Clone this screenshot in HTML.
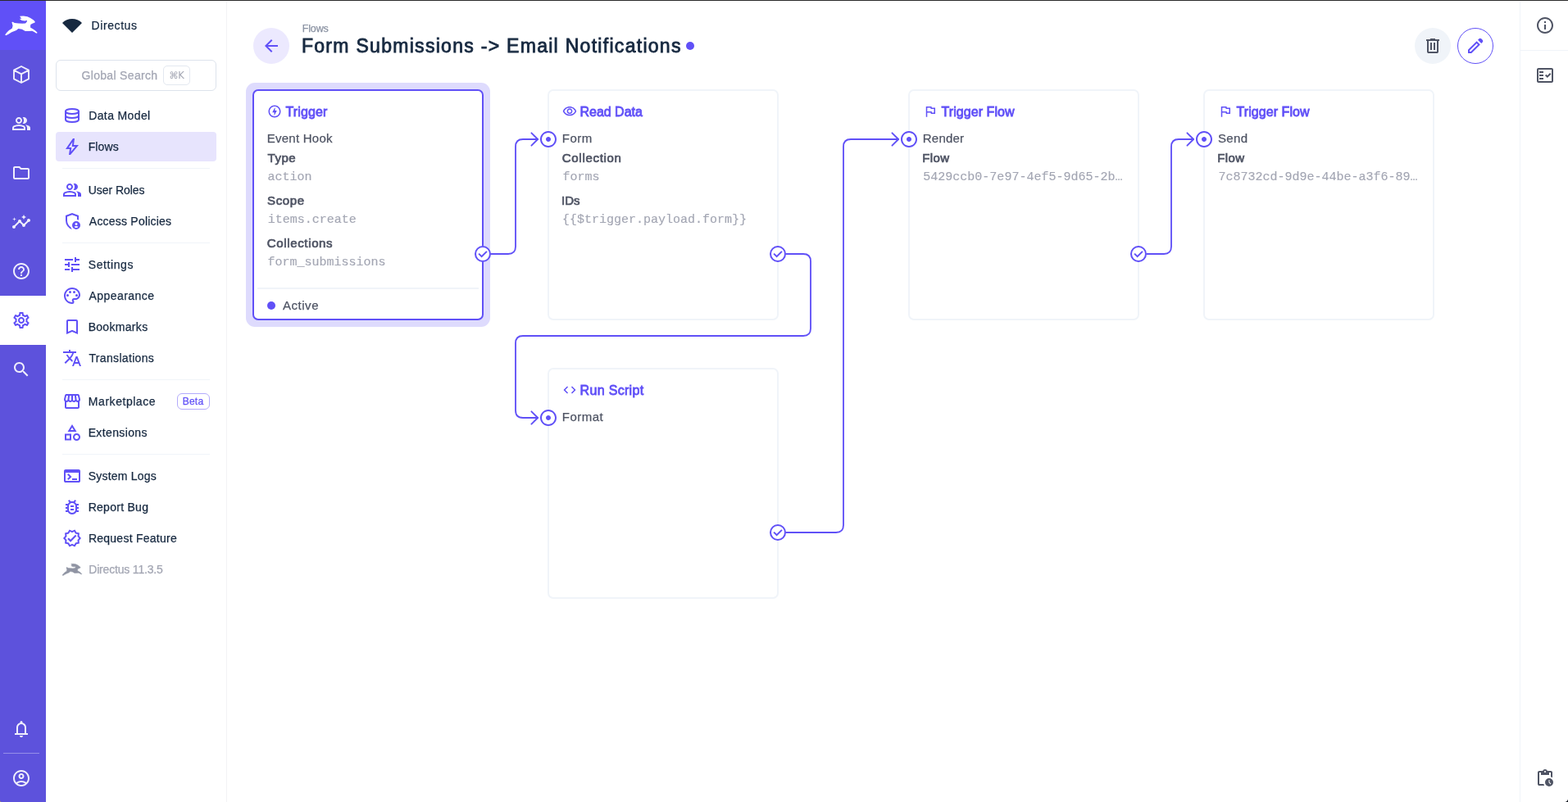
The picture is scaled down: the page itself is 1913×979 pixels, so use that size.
<!DOCTYPE html>
<html lang="en"><head><meta charset="utf-8"><title>Form Submissions -&gt; Email Notifications · Directus</title>
<style>
*{margin:0;padding:0;}
html,body{width:1913px;height:979px;overflow:hidden;background:#fff;}
body{position:relative;font-family:"Liberation Sans", sans-serif;-webkit-font-smoothing:antialiased;}
#app{position:absolute;left:0;top:0;width:1913px;height:979px;overflow:hidden;background:#fff;will-change:transform;}
#app div,#app span,#app svg,#app .sec{position:absolute;}
.sec{left:0;top:0;width:0;height:0;display:block;}
.t{white-space:nowrap;display:block;}
.i{display:block;overflow:visible;}
</style></head>
<body><div id="app">
<div style="left:0px;top:0px;width:1913px;height:1px;background:#2b2b2b;"></div>
<aside id="module-bar" class="sec" aria-label="Modules">
<div style="left:0px;top:1px;width:56px;height:60px;background:#6050f7;"></div>
<div style="left:0px;top:61px;width:56px;height:918px;background:#5d52dc;"></div>
<svg class="i" style="left:6px;top:18.5px" width="40" height="25" viewBox="0 0 40 25" fill="#fff" stroke="#fff"><path stroke="none" d="M18.07 0.72L22.51 0.56L27.42 1.24L31.09 2.95L34.62 5.31L36.67 7.37L36.36 8.68L34.00 9.60L31.25 10.98L31.03 14.51L34.77 16.65L37.83 19.10L39.73 21.09L38.45 21.77L35.69 20.02L33.24 18.80L28.64 19.01L24.81 19.01L20.83 16.86L16.38 16.04L13.93 18.09L8.26 20.24L4.28 22.69L1.43 24.37L0.14 23.48L2.23 20.85L4.99 17.88L8.66 15.73L9.58 12.51L8.97 10.37L8.36 8.07L9.58 7.67L11.79 9.08L16.38 9.39L21.29 9.82L25.03 9.51L26.65 7.76L27.05 5.77L24.35 6.39L20.67 5.90L18.07 4.30L18.47 3.63L20.37 3.78L19.30 2.46Z"/></svg>
<svg class="i" style="left:14.0px;top:79.0px;opacity:0.9;" width="24" height="24" viewBox="0 0 24 24" fill="#fff" stroke="#fff"><path fill="none" stroke-width="1.9" stroke-linejoin="round" stroke-linecap="round" d="M12 2L21 6.7V17.3L12 22L3 17.3V6.7ZM3.2 6.8L12 11.4L20.8 6.8M12 11.4V21.8" /></svg>
<svg class="i" style="left:14.0px;top:139.0px;opacity:0.9;" width="24" height="24" viewBox="0 0 24 24" fill="#fff" stroke="#fff"><path stroke="none" d="M1 20v-2.8q0-.85.438-1.563T2.6 14.55q1.55-.775 3.15-1.163T9 13q1.65 0 3.25.388t3.15 1.162q.725.375 1.163 1.088T17 17.2V20H1Zm18 0v-3q0-1.1-.612-2.113T16.650 13.150q1.275.150 2.400.513t2.100.887q.9.5 1.375 1.113T23 17v3h-4ZM9 12q-1.650 0-2.825-1.175T5 8q0-1.650 1.175-2.825T9 4q1.650 0 2.825 1.175T13 8q0 1.650-1.175 2.825T9 12Zm10-4q0 1.650-1.175 2.825T15 12q-.275 0-.7-.062t-.7-.138q.675-.8 1.037-1.775T15 8q0-1.050-.363-2.025T13.600 4.200q.350-.125.7-.163T15 4q1.650 0 2.825 1.175T19 8ZM3 18h12v-.8q0-.275-.138-.5t-.362-.350q-1.350-.675-2.725-1.012T9 15q-1.400 0-2.775.338T3.500 16.350q-.225.125-.362.350T3 17.200v.8Zm6-8q.825 0 1.413-.587T11 8q0-.825-.587-1.413T9 6q-.825 0-1.413.587T7 8q0 .825.587 1.413T9 10Z" fill-rule="evenodd"/></svg>
<svg class="i" style="left:14.0px;top:199.0px;opacity:0.9;" width="24" height="24" viewBox="0 0 24 24" fill="#fff" stroke="#fff"><path stroke="none" d="M9.17 6l2 2H20v10H4V6h5.17M10 4H4c-1.1 0-1.99.9-1.99 2L2 18c0 1.1.9 2 2 2h16c1.1 0 2-.9 2-2V8c0-1.1-.9-2-2-2h-8l-2-2z" /></svg>
<svg class="i" style="left:14.0px;top:259.0px;opacity:0.9;" width="24" height="24" viewBox="0 0 24 24" fill="#fff" stroke="#fff"><path stroke="none" d="M21 8c-1.45 0-2.26 1.44-1.93 2.51l-3.55 3.56c-.3-.09-.74-.09-1.04 0l-2.55-2.55C12.27 10.45 11.46 9 10 9c-1.45 0-2.27 1.44-1.93 2.52l-4.56 4.55C2.44 15.74 1 16.55 1 18c0 1.1.9 2 2 2 1.45 0 2.26-1.44 1.93-2.51l4.55-4.56c.3.09.74.09 1.04 0l2.55 2.55C12.73 16.55 13.54 18 15 18c1.45 0 2.27-1.44 1.93-2.52l3.56-3.55c1.07.33 2.51-.48 2.51-1.93 0-1.1-.9-2-2-2z" /><path stroke="none" d="M15 9l.94-2.07L18 6l-2.06-.93L15 3l-.92 2.07L12 6l2.08.93zM3.5 11L4 9l2-.5L4 8l-.5-2L3 8l-2 .5L3 9z" /></svg>
<svg class="i" style="left:14.0px;top:319.0px;opacity:0.9;" width="24" height="24" viewBox="0 0 24 24" fill="#fff" stroke="#fff"><path stroke="none" d="M11 18h2v-2h-2v2zm1-16C6.48 2 2 6.48 2 12s4.48 10 10 10 10-4.48 10-10S17.52 2 12 2zm0 18c-4.41 0-8-3.59-8-8s3.59-8 8-8 8 3.59 8 8-3.59 8-8 8zm0-14c-2.21 0-4 1.79-4 4h2c0-1.1.9-2 2-2s2 .9 2 2c0 2-3 1.75-3 5h2c0-2.25 3-2.5 3-5 0-2.21-1.79-4-4-4z" /></svg>
<div style="left:0px;top:361px;width:56px;height:60px;background:#fff;"></div>
<svg class="i" style="left:14.0px;top:379.0px;" width="24" height="24" viewBox="0 0 24 24" fill="#6050f7" stroke="#6050f7"><path stroke="none" d="M19.43 12.98c.04-.32.07-.64.07-.98 0-.34-.03-.66-.07-.98l2.11-1.65c.19-.15.24-.42.12-.64l-2-3.46c-.09-.16-.26-.25-.44-.25-.06 0-.12.01-.17.03l-2.49 1c-.52-.4-1.08-.73-1.69-.98l-.38-2.65C14.46 2.18 14.25 2 14 2h-4c-.25 0-.46.18-.49.42l-.38 2.65c-.61.25-1.17.59-1.69.98l-2.49-1c-.06-.02-.12-.03-.18-.03-.17 0-.34.09-.43.25l-2 3.46c-.13.22-.07.49.12.64l2.11 1.65c-.04.32-.07.65-.07.98 0 .33.03.66.07.98l-2.11 1.65c-.19.15-.24.42-.12.64l2 3.46c.09.16.26.25.44.25.06 0 .12-.01.17-.03l2.49-1c.52.4 1.08.73 1.69.98l.38 2.65c.03.24.24.42.49.42h4c.25 0 .46-.18.49-.42l.38-2.65c.61-.25 1.17-.59 1.69-.98l2.49 1c.06.02.12.03.18.03.17 0 .34-.09.43-.25l2-3.46c.12-.22.07-.49-.12-.64l-2.11-1.65zm-1.98-1.71c.04.31.05.52.05.73 0 .21-.02.43-.05.73l-.14 1.13.89.7 1.08.84-.7 1.21-1.27-.51-1.04-.42-.9.68c-.43.32-.84.56-1.25.73l-1.06.43-.16 1.13-.2 1.35h-1.4l-.19-1.35-.16-1.13-1.06-.43c-.43-.18-.83-.41-1.23-.71l-.91-.7-1.06.43-1.27.51-.7-1.21 1.08-.84.89-.7-.14-1.13c-.03-.31-.05-.54-.05-.74s.02-.43.05-.73l.14-1.13-.89-.7-1.08-.84.7-1.21 1.27.51 1.04.42.9-.68c.43-.32.84-.56 1.25-.73l1.06-.43.16-1.13.2-1.35h1.39l.19 1.35.16 1.13 1.06.43c.43.18.83.41 1.23.71l.91.7 1.06-.43 1.27-.51.7 1.21-1.07.85-.89.7.14 1.13zM12 8c-2.21 0-4 1.79-4 4s1.79 4 4 4 4-1.79 4-4-1.79-4-4-4zm0 6c-1.1 0-2-.9-2-2s.9-2 2-2 2 .9 2 2-.9 2-2 2z" /></svg>
<svg class="i" style="left:14.0px;top:439.0px;opacity:0.9;" width="24" height="24" viewBox="0 0 24 24" fill="#fff" stroke="#fff"><path stroke="none" d="M15.5 14h-.79l-.28-.27C15.41 12.59 16 11.11 16 9.5 16 5.91 13.09 3 9.5 3S3 5.91 3 9.5 5.91 16 9.5 16c1.61 0 3.09-.59 4.23-1.57l.27.28v.79l5 4.99L20.49 19l-4.99-5zm-6 0C7.01 14 5 11.99 5 9.5S7.01 5 9.5 5 14 7.01 14 9.5 11.99 14 9.5 14z" /></svg>
<svg class="i" style="left:14.0px;top:878.0px;opacity:0.9;" width="24" height="24" viewBox="0 0 24 24" fill="#fff" stroke="#fff"><path stroke="none" d="M4 19v-2h2v-7q0-2.075 1.25-3.688T10.5 4.2V3.500q0-.625.438-1.063T12 2q.625 0 1.063.438T13.500 3.500v.7q2 .5 3.250 2.113T18 10v7h2v2H4Zm8 3q-.825 0-1.412-.587T10 20h4q0 .825-.587 1.413T12 22Zm-4-5h8v-7q0-1.650-1.175-2.825T12 6q-1.650 0-2.825 1.175T8 10v7Z" fill-rule="evenodd"/></svg>
<div style="left:4px;top:919px;width:44px;height:1px;background:rgba(255,255,255,.35);"></div>
<svg class="i" style="left:14.0px;top:938.0px;opacity:0.9;" width="24" height="24" viewBox="0 0 24 24" fill="#fff" stroke="#fff"><path stroke="none" d="M12 2C6.48 2 2 6.48 2 12s4.48 10 10 10 10-4.48 10-10S17.52 2 12 2zM7.35 18.5C8.66 17.56 10.26 17 12 17s3.34.56 4.65 1.5c-1.31.94-2.91 1.5-4.65 1.5s-3.34-.56-4.65-1.5zm10.79-1.38C16.45 15.8 14.32 15 12 15s-4.45.8-6.14 2.12C4.7 15.730 4 13.950 4 12c0-4.420 3.580-8 8-8s8 3.580 8 8c0 1.950-.7 3.730-1.860 5.120z" /><path stroke="none" d="M12 6c-1.93 0-3.5 1.57-3.5 3.5S10.07 13 12 13s3.5-1.57 3.5-3.5S13.93 6 12 6zm0 5c-.83 0-1.5-.67-1.5-1.5S11.17 8 12 8s1.5.67 1.5 1.5S12.83 11 12 11z" /></svg>
</aside>
<nav id="navigation" class="sec" aria-label="Settings navigation">
<div style="left:56px;top:1px;width:220px;height:978px;background:#fff;"></div>
<div style="left:276px;top:1px;width:1px;height:978px;background:#f3f3f5;"></div>
<svg class="i" style="left:76.0px;top:19.0px;" width="24" height="24" viewBox="0 0 24 24" fill="#172940" stroke="#172940"><path stroke="none" d="M12 21 0 9q2.375-2.425 5.488-3.713T12 4q3.400 0 6.513 1.288T24 9L12 21Z" /></svg>
<span id="proj" class="t" style="left:111.60px;top:21.15px;font-size:14px;line-height:20px;color:#172940;-webkit-text-stroke:0.25px #172940;letter-spacing:0.575px;">Directus</span>
<div style="left:68px;top:73px;width:196px;height:38px;border:1px solid #dde3ec;border-radius:6px;box-sizing:border-box;background:#fff;"></div>
<span id="gsearch" class="t" style="left:99.49px;top:82.15px;font-size:14px;line-height:20px;color:#a3a6b3;-webkit-text-stroke:0.25px #a3a6b3;letter-spacing:0.324px;">Global Search</span>
<div style="left:199px;top:80px;width:33px;height:24px;border:1px solid #e3e8f0;border-radius:5px;box-sizing:border-box;"></div>
<span id="kbd" class="t" style="left:206.22px;top:84.02px;font-size:11.5px;line-height:16px;color:#a3a6b3;font-family:'DejaVu Sans', 'Liberation Sans', sans-serif;letter-spacing:-0.558px;">⌘K</span>
<div style="left:68px;top:161px;width:196px;height:36px;background:#e7e4fd;border-radius:4px;"></div>
<div style="left:76px;top:205px;width:180px;height:1px;background:#f0f4f9;"></div>
<div style="left:76px;top:296px;width:180px;height:1px;background:#f0f4f9;"></div>
<div style="left:76px;top:463px;width:180px;height:1px;background:#f0f4f9;"></div>
<div style="left:76px;top:554px;width:180px;height:1px;background:#f0f4f9;"></div>
<svg class="i" style="left:76.0px;top:129.0px;" width="24" height="24" viewBox="0 0 24 24" fill="#6050f7" stroke="#6050f7"><ellipse cx="12" cy="7" rx="8" ry="3" fill="none" stroke-width="2"/><path fill="none" stroke-width="2" stroke-linejoin="round" stroke-linecap="round" d="M4 7v10c0 1.66 3.58 3 8 3s8-1.34 8-3V7M4 12c0 1.66 3.58 3 8 3s8-1.34 8-3" /></svg>
<span id="nav_database" class="t" style="left:108.24px;top:131.15px;font-size:14px;line-height:20px;color:#172940;-webkit-text-stroke:0.25px #172940;letter-spacing:0.372px;">Data Model</span>
<svg class="i" style="left:76.0px;top:167.0px;" width="24" height="24" viewBox="0 0 24 24" fill="#6050f7" stroke="#6050f7"><path stroke="none" d="M8 22l1-7H4l9-13h2l-1 8h6L10 22H8Zm2.55-3.8L15.725 12h-4l.725-5.675L7.825 13H11.300l-.750 5.200Z" fill-rule="evenodd"/></svg>
<span id="nav_bolt" class="t" style="left:107.64px;top:169.15px;font-size:14px;line-height:20px;color:#172940;-webkit-text-stroke:0.25px #172940;letter-spacing:0.120px;">Flows</span>
<svg class="i" style="left:76.0px;top:220.0px;" width="24" height="24" viewBox="0 0 24 24" fill="#6050f7" stroke="#6050f7"><path stroke="none" d="M1 20v-2.8q0-.85.438-1.563T2.6 14.55q1.55-.775 3.15-1.163T9 13q1.65 0 3.25.388t3.15 1.162q.725.375 1.163 1.088T17 17.2V20H1Zm18 0v-3q0-1.1-.612-2.113T16.650 13.150q1.275.150 2.400.513t2.100.887q.9.5 1.375 1.113T23 17v3h-4ZM9 12q-1.650 0-2.825-1.175T5 8q0-1.650 1.175-2.825T9 4q1.650 0 2.825 1.175T13 8q0 1.650-1.175 2.825T9 12Zm10-4q0 1.650-1.175 2.825T15 12q-.275 0-.7-.062t-.7-.138q.675-.8 1.037-1.775T15 8q0-1.050-.363-2.025T13.600 4.200q.350-.125.7-.163T15 4q1.650 0 2.825 1.175T19 8ZM3 18h12v-.8q0-.275-.138-.5t-.362-.350q-1.350-.675-2.725-1.012T9 15q-1.400 0-2.775.338T3.500 16.350q-.225.125-.362.350T3 17.200v.8Zm6-8q.825 0 1.413-.587T11 8q0-.825-.587-1.413T9 6q-.825 0-1.413.587T7 8q0 .825.587 1.413T9 10Z" fill-rule="evenodd"/></svg>
<span id="nav_group" class="t" style="left:107.74px;top:222.15px;font-size:14px;line-height:20px;color:#172940;-webkit-text-stroke:0.25px #172940;letter-spacing:-0.048px;">User Roles</span>
<svg class="i" style="left:76.0px;top:258.0px;" width="24" height="24" viewBox="0 0 24 24" fill="#6050f7" stroke="#6050f7"><path stroke="none" d="M17 17q.625 0 1.063-.438T18.500 15.500q0-.625-.437-1.062T17 14q-.625 0-1.062.438T15.500 15.500q0 .625.438 1.063T17 17Zm0 3q.775 0 1.425-.363t1.050-.962q-.550-.325-1.175-.5T17 18q-.675 0-1.300.175t-1.175.5q.4.6 1.050.963T17 20Zm-5 2q-3.475-.875-5.738-3.988T4 11.100V5l8-3 8 3v5.675q-.475-.2-.975-.363T18 10.075V6.400l-6-2.250L6 6.400v4.700q0 1.175.313 2.350t.875 2.238q.562 1.062 1.362 1.962t1.775 1.500q.275.8.725 1.525.450.725 1.025 1.300-.025 0-.037.013T12 22Zm5 0q-2.075 0-3.537-1.463T12 17q0-2.075 1.463-3.537T17 12q2.075 0 3.538 1.463T22 17q0 2.075-1.462 3.538T17 22Z" fill-rule="evenodd"/></svg>
<span id="nav_admin" class="t" style="left:108.87px;top:260.15px;font-size:14px;line-height:20px;color:#172940;-webkit-text-stroke:0.25px #172940;letter-spacing:0.212px;">Access Policies</span>
<svg class="i" style="left:76.0px;top:311.0px;" width="24" height="24" viewBox="0 0 24 24" fill="#6050f7" stroke="#6050f7"><path stroke="none" d="M3 17v2h6v-2H3zM3 5v2h10V5H3zm10 16v-2h8v-2h-8v-2h-2v6h2zM7 9v2H3v2h4v2h2V9H7zm14 4v-2H11v2h10zm-6-4h2V7h4V5h-4V3h-2v6z" /></svg>
<span id="nav_tune" class="t" style="left:107.73px;top:313.15px;font-size:14px;line-height:20px;color:#172940;-webkit-text-stroke:0.25px #172940;letter-spacing:0.600px;">Settings</span>
<svg class="i" style="left:76.0px;top:349.0px;" width="24" height="24" viewBox="0 0 24 24" fill="#6050f7" stroke="#6050f7"><path stroke="none" d="M12 22C6.49 22 2 17.51 2 12S6.49 2 12 2s10 4.04 10 9c0 3.31-2.69 6-6 6h-1.77c-.28 0-.5.22-.5.5 0 .12.05.23.13.33.41.47.64 1.06.64 1.67A2.5 2.5 0 0 1 12 22zm0-18c-4.41 0-8 3.59-8 8s3.59 8 8 8c.28 0 .5-.22.5-.5a.54.54 0 0 0-.14-.35c-.41-.46-.63-1.05-.63-1.65a2.5 2.5 0 0 1 2.5-2.5H16c2.21 0 4-1.79 4-4 0-3.86-3.59-7-8-7z" /><circle stroke="none" cx="6.5" cy="11.5" r="1.5"/><circle stroke="none" cx="9.5" cy="7.5" r="1.5"/><circle stroke="none" cx="14.5" cy="7.5" r="1.5"/><circle stroke="none" cx="17.5" cy="11.5" r="1.5"/></svg>
<span id="nav_palette" class="t" style="left:108.57px;top:351.15px;font-size:14px;line-height:20px;color:#172940;-webkit-text-stroke:0.25px #172940;letter-spacing:0.428px;">Appearance</span>
<svg class="i" style="left:76.0px;top:387.0px;" width="24" height="24" viewBox="0 0 24 24" fill="#6050f7" stroke="#6050f7"><path stroke="none" d="M17 3H7c-1.1 0-2 .9-2 2v16l7-3 7 3V5c0-1.1-.9-2-2-2zm0 15l-5-2.18L7 18V5h10v13z" /></svg>
<span id="nav_bookmark" class="t" style="left:107.64px;top:389.15px;font-size:14px;line-height:20px;color:#172940;-webkit-text-stroke:0.25px #172940;letter-spacing:0.310px;">Bookmarks</span>
<svg class="i" style="left:76.0px;top:425.0px;" width="24" height="24" viewBox="0 0 24 24" fill="#6050f7" stroke="#6050f7"><path stroke="none" d="M12.87 15.07l-2.54-2.51.03-.03c1.74-1.94 2.98-4.17 3.71-6.53H17V4h-7V2H8v2H1v1.99h11.17C11.5 7.92 10.44 9.75 9 11.35 8.07 10.32 7.3 9.19 6.69 8h-2c.73 1.63 1.73 3.17 2.98 4.56l-5.09 5.02L4 19l5-5 3.11 3.11.76-2.04zM18.5 10h-2L12 22h2l1.12-3h4.75L21 22h2l-4.5-12zm-2.62 7l1.62-4.33L19.12 17h-3.24z" /></svg>
<span id="nav_translate" class="t" style="left:108.52px;top:427.15px;font-size:14px;line-height:20px;color:#172940;-webkit-text-stroke:0.25px #172940;letter-spacing:0.320px;">Translations</span>
<svg class="i" style="left:76.0px;top:478.0px;" width="24" height="24" viewBox="0 0 24 24" fill="#6050f7" stroke="#6050f7"><path stroke="none" d="M21.9 8.89l-1.05-4.37c-.22-.9-1-1.52-1.91-1.52H5.05c-.9 0-1.69.63-1.9 1.52L2.100 8.890c-.24 1.020-.02 2.060.62 2.880.08.11.19.19.28.29V19c0 1.100.9 2 2 2h14c1.100 0 2-.9 2-2v-6.940c.09-.09.2-.18.28-.28.64-.82.87-1.870.62-2.890zm-2.990-3.900l1.050 4.370c.1.42.01.84-.25 1.170-.14.18-.44.47-.94.47-.61 0-1.140-.49-1.210-1.140L16.980 5l1.930-.010zM13 5h1.960l.54 4.520c.05.39-.07.78-.33 1.070-.22.26-.54.41-.95.410-.67 0-1.220-.59-1.220-1.310V5zM8.490 9.520L9.040 5H11v4.690c0 .72-.55 1.310-1.290 1.310-.34 0-.65-.15-.89-.41-.25-.29-.37-.68-.33-1.070zm-4.450-.16L5.050 5h1.970l-.58 4.860c-.08.65-.6 1.140-1.210 1.140-.49 0-.8-.29-.93-.47-.27-.32-.36-.75-.26-1.170zM5 19v-6.030c.08.01.15.03.23.03.87 0 1.660-.36 2.240-.95.6.6 1.400.95 2.310.95.87 0 1.650-.36 2.230-.93.59.57 1.390.93 2.290.93.84 0 1.640-.35 2.240-.95.58.59 1.370.95 2.240.95.08 0 .15-.02.23-.03V19H5z" /></svg>
<span id="nav_storefront" class="t" style="left:107.87px;top:480.15px;font-size:14px;line-height:20px;color:#172940;-webkit-text-stroke:0.25px #172940;letter-spacing:0.541px;">Marketplace</span>
<svg class="i" style="left:76.0px;top:516.0px;" width="24" height="24" viewBox="0 0 24 24" fill="#6050f7" stroke="#6050f7"><path stroke="none" d="M12 2l-5.5 9h11L12 2zm0 3.84L13.93 9h-3.87L12 5.84zM17.5 13c-2.49 0-4.5 2.01-4.5 4.5s2.01 4.5 4.5 4.5 4.5-2.01 4.5-4.5-2.01-4.5-4.5-4.5zm0 7c-1.38 0-2.5-1.12-2.5-2.5s1.120-2.5 2.5-2.5 2.5 1.120 2.5 2.5-1.120 2.5-2.5 2.5zM3 21.5h8v-8H3v8zm2-6h4v4H5v-4z" /></svg>
<span id="nav_category" class="t" style="left:107.64px;top:518.15px;font-size:14px;line-height:20px;color:#172940;-webkit-text-stroke:0.25px #172940;letter-spacing:0.377px;">Extensions</span>
<svg class="i" style="left:76.0px;top:569.0px;" width="24" height="24" viewBox="0 0 24 24" fill="#6050f7" stroke="#6050f7"><path stroke="none" d="M4 20q-.825 0-1.412-.587T2 18V6q0-.825.588-1.412T4 4h16q.825 0 1.413.588T22 6v12q0 .825-.587 1.413T20 20H4Zm0-2h16V8H4v10Zm3.500-1-1.400-1.400L8.675 13l-2.600-2.600L7.500 9l4 4-4 4Zm4.500 0v-2h6v2h-6Z" fill-rule="evenodd"/></svg>
<span id="nav_terminal" class="t" style="left:107.73px;top:571.15px;font-size:14px;line-height:20px;color:#172940;-webkit-text-stroke:0.25px #172940;letter-spacing:0.201px;">System Logs</span>
<svg class="i" style="left:76.0px;top:607.0px;" width="24" height="24" viewBox="0 0 24 24" fill="#6050f7" stroke="#6050f7"><path stroke="none" d="M20 8h-2.810c-.45-.78-1.070-1.450-1.820-1.960L17 4.410 15.590 3l-2.170 2.170C12.960 5.060 12.490 5 12 5s-.96.060-1.410.170L8.410 3 7 4.410l1.620 1.630C7.880 6.550 7.260 7.220 6.810 8H4v2h2.090c-.05.33-.09.66-.09 1v1H4v2h2v1c0 .34.040.67.090 1H4v2h2.810c1.040 1.790 2.970 3 5.190 3s4.150-1.210 5.190-3H20v-2h-2.090c.05-.33.09-.66.09-1v-1h2v-2h-2v-1c0-.34-.04-.67-.09-1H20V8zm-4 4v3c0 .22-.03.47-.07.7l-.1.65-.37.65c-.72 1.240-2.040 2-3.460 2s-2.740-.77-3.460-2l-.37-.64-.1-.65C8.030 15.480 8 15.230 8 15v-4c0-.23.030-.48.070-.7l.1-.65.37-.65c.3-.52.72-.97 1.210-1.310l.57-.39.74-.18c.31-.08.63-.12.94-.12.32 0 .63.040.95.120l.68.160.61.420c.5.34.91.78 1.210 1.310l.38.65.1.65c.04.22.07.47.07.69v1zm-6 2h4v2h-4zm0-4h4v2h-4z" /></svg>
<span id="nav_bug" class="t" style="left:107.64px;top:609.15px;font-size:14px;line-height:20px;color:#172940;-webkit-text-stroke:0.25px #172940;letter-spacing:0.281px;">Report Bug</span>
<svg class="i" style="left:76.0px;top:645.0px;" width="24" height="24" viewBox="0 0 24 24" fill="#6050f7" stroke="#6050f7"><path stroke="none" d="M23 11.99l-2.44-2.79.34-3.69-3.61-.82-1.890-3.200L12 2.960 8.600 1.500 6.710 4.690 3.100 5.500l.34 3.700L1 11.990l2.440 2.790-.34 3.700 3.610.82L8.600 22.500l3.400-1.470 3.400 1.460 1.890-3.190 3.610-.82-.34-3.690 2.440-2.800zm-3.950 1.480l-.56.65.08.85.18 1.950-1.900.43-.84.19-.44.74-.99 1.680-1.780-.77-.8-.34-.79.34-1.780.77-.99-1.670-.44-.74-.84-.19-1.900-.43.18-1.960.08-.85-.56-.65-1.290-1.470 1.290-1.480.56-.65-.09-.86-.18-1.940 1.900-.43.840-.19.44-.74.99-1.680 1.780.77.8.34.79-.34 1.780-.77.99 1.680.44.74.84.19 1.900.43-.18 1.950-.08.85.56.65 1.290 1.470-1.280 1.480z" /><path stroke="none" d="M10.09 13.75l-2.32-2.33-1.480 1.490 3.800 3.810 7.340-7.360-1.480-1.490z" /></svg>
<span id="nav_verified" class="t" style="left:107.90px;top:647.15px;font-size:14px;line-height:20px;color:#172940;-webkit-text-stroke:0.25px #172940;letter-spacing:0.250px;">Request Feature</span>
<svg class="i" style="left:76px;top:687.5px" width="24" height="15" viewBox="0 0 40 25" fill="#9094a3" stroke="#9094a3"><path stroke-width="0.9" stroke-linejoin="round" d="M18.07 0.72L22.51 0.56L27.42 1.24L31.09 2.95L34.62 5.31L36.67 7.37L36.36 8.68L34.00 9.60L31.25 10.98L31.03 14.51L34.77 16.65L37.83 19.10L39.73 21.09L38.45 21.77L35.69 20.02L33.24 18.80L28.64 19.01L24.81 19.01L20.83 16.86L16.38 16.04L13.93 18.09L8.26 20.24L4.28 22.69L1.43 24.37L0.14 23.48L2.23 20.85L4.99 17.88L8.66 15.73L9.58 12.51L8.97 10.37L8.36 8.07L9.58 7.67L11.79 9.08L16.38 9.39L21.29 9.82L25.03 9.51L26.65 7.76L27.05 5.77L24.35 6.39L20.67 5.90L18.07 4.30L18.47 3.63L20.37 3.78L19.30 2.46Z"/></svg>
<span id="ver" class="t" style="left:108.24px;top:685.15px;font-size:14px;line-height:20px;color:#a3a6b3;-webkit-text-stroke:0.25px #a3a6b3;letter-spacing:-0.181px;">Directus 11.3.5</span>
<div style="left:216px;top:480px;width:40px;height:20px;border:1px solid #b3abfb;border-radius:6px;box-sizing:border-box;"></div>
<span id="beta" class="t" style="left:222.76px;top:482.34px;font-size:12px;line-height:17px;color:#6050f7;-webkit-text-stroke:0.25px #6050f7;letter-spacing:0.221px;">Beta</span>
</nav>
<header id="header-bar" class="sec">
<div style="left:309px;top:34px;width:44px;height:44px;background:#ece9fe;border-radius:50%;"></div>
<svg class="i" style="left:319.0px;top:44.0px;" width="24" height="24" viewBox="0 0 24 24" fill="#6050f7" stroke="#6050f7"><path stroke="none" d="M20 11H7.83l5.59-5.59L12 4l-8 8 8 8 1.41-1.41L7.83 13H20v-2z" /></svg>
<span id="crumb" class="t" style="left:368.68px;top:25.67px;font-size:12.5px;line-height:18px;color:#8a92a2;-webkit-text-stroke:0.25px #8a92a2;letter-spacing:-0.133px;">Flows</span>
<span id="title" class="t" style="left:367.96px;top:40.03px;font-size:23px;line-height:32px;color:#172940;-webkit-text-stroke:0.85px #172940;letter-spacing:1.290px;">Form Submissions -&gt; Email Notifications</span>
<div style="left:837px;top:51px;width:10px;height:10px;background:#6050f7;border-radius:50%;"></div>
<div style="left:1726px;top:34px;width:44px;height:44px;background:#f0f4f9;border-radius:50%;"></div>
<svg class="i" style="left:1736.0px;top:44.0px;" width="24" height="24" viewBox="0 0 24 24" fill="#4f5464" stroke="#4f5464"><path stroke="none" d="M7 21q-.825 0-1.412-.587T5 19V6H4V4h5V3h6v1h5v2h-1v13q0 .825-.587 1.413T17 21H7ZM17 6H7v13h10V6ZM9 17h2V8H9v9Zm4 0h2V8h-2v9Z" fill-rule="evenodd"/></svg>
<div style="left:1778px;top:34px;width:44px;height:44px;border:1.6px solid #6050f7;border-radius:50%;box-sizing:border-box;background:#fff;"></div>
<svg class="i" style="left:1788.0px;top:44.0px;" width="24" height="24" viewBox="0 0 24 24" fill="#6050f7" stroke="#6050f7"><path stroke="none" d="M5 19h1.4l8.625-8.625-1.4-1.4L5 17.6V19ZM19.3 8.925l-4.25-4.2 1.4-1.4q.575-.575 1.413-.575.837 0 1.412.575l1.4 1.4q.575.575.6 1.388.025.812-.55 1.387L19.3 8.925ZM17.85 10.4 7.25 21H3v-4.25l10.6-10.6 4.25 4.250Z" fill-rule="evenodd"/></svg>
</header>
<aside id="sidebar" class="sec" aria-label="Sidebar">
<div style="left:1854px;top:1px;width:1px;height:978px;background:#f0f4f9;"></div>
<div style="left:1855px;top:1px;width:58px;height:978px;background:#fff;"></div>
<div style="left:1855px;top:61px;width:58px;height:1px;background:#f0f4f9;"></div>
<svg class="i" style="left:1873.0px;top:19.0px;" width="24" height="24" viewBox="0 0 24 24" fill="#4f5464" stroke="#4f5464"><path stroke="none" d="M11 7h2v2h-2zm0 4h2v6h-2zm1-9C6.48 2 2 6.48 2 12s4.48 10 10 10 10-4.48 10-10S17.52 2 12 2zm0 18c-4.41 0-8-3.59-8-8s3.59-8 8-8 8 3.59 8 8-3.59 8-8 8z" /></svg>
<svg class="i" style="left:1873.0px;top:80.0px;" width="24" height="24" viewBox="0 0 24 24" fill="#4f5464" stroke="#4f5464"><path stroke="none" d="M20 3H4c-1.1 0-2 .9-2 2v14c0 1.1.9 2 2 2h16c1.1 0 2-.9 2-2V5c0-1.1-.9-2-2-2zm0 16H4V5h16v14z" /><path stroke="none" d="M19.41 10.42L17.99 9l-3.17 3.17-1.41-1.42L12 12.16 14.82 15zM5 7h5v2H5zM5 11h5v2H5zM5 15h5v2H5z" /></svg>
<svg class="i" style="left:1873.0px;top:938.0px;" width="24" height="24" viewBox="0 0 24 24" fill="#4f5464" stroke="#4f5464"><path stroke="none" d="M17 22q-2.075 0-3.537-1.463T12 17q0-2.075 1.463-3.537T17 12q2.075 0 3.538 1.463T22 17q0 2.075-1.462 3.538T17 22Zm1.675-2.625.7-.7L17.500 16.800V14h-1v3.200l2.175 2.175ZM5 21q-.825 0-1.412-.587T3 19V5q0-.825.588-1.413T5 3h4.175q.275-.875 1.075-1.438T12 1q1 0 1.788.563T14.850 3H19q.825 0 1.413.588T21 5v6.250q-.450-.325-.950-.550T19 10.300V5h-2v3H7V5H5v14h5.300q.175.550.400 1.050t.550.950H5Zm7-16q.425 0 .713-.288T13 4q0-.425-.288-.713T12 3q-.425 0-.713.288T11 4q0 .425.288.713T12 5Z" fill-rule="evenodd"/></svg>
</aside>
<main id="flow" class="sec" aria-label="Flow">
<div style="left:300px;top:101px;width:298px;height:298px;background:#dedbfd;border-radius:11px;"></div>
<div style="left:308px;top:109px;width:282px;height:282px;border:2px solid #6050f7;border-radius:7px;box-sizing:border-box;background:#fff;"></div>
<svg class="i" style="left:326.0px;top:127.0px;" width="18" height="18" viewBox="0 0 24 24" fill="#6050f7" stroke="#6050f7"><path stroke="none" d="M12 2.020c-5.510 0-9.980 4.470-9.980 9.980s4.470 9.980 9.980 9.980 9.980-4.470 9.980-9.980S17.510 2.020 12 2.020zm0 17.960c-4.400 0-7.980-3.580-7.980-7.980S7.600 4.020 12 4.020 19.980 7.600 19.980 12 16.400 19.980 12 19.980zM12.750 5l-4.500 8.500h3.140V19l4.360-8.500h-3V5z" /></svg>
<span id="p1_h" class="t" style="left:348.60px;top:126.46px;font-size:16px;line-height:22px;color:#6050f7;-webkit-text-stroke:0.8px #6050f7;letter-spacing:0.093px;">Trigger</span>
<span id="p1_n" class="t" style="left:325.76px;top:158.30px;font-size:15px;line-height:21px;color:#4f5464;-webkit-text-stroke:0.25px #4f5464;letter-spacing:0.249px;">Event Hook</span>
<span id="p1_l0" class="t" style="left:326.60px;top:182.30px;font-size:15px;line-height:21px;color:#4f5464;-webkit-text-stroke:0.7px #4f5464;letter-spacing:0.523px;">Type</span>
<span id="p1_v0" class="t" style="left:326.52px;top:205.50px;font-size:15px;line-height:21px;color:#a3a6b3;font-family:'Liberation Mono', monospace;-webkit-text-stroke:0.15px #a3a6b3;">action</span>
<span id="p1_l1" class="t" style="left:326.06px;top:234.30px;font-size:15px;line-height:21px;color:#4f5464;-webkit-text-stroke:0.7px #4f5464;letter-spacing:0.600px;">Scope</span>
<span id="p1_v1" class="t" style="left:326.65px;top:257.50px;font-size:15px;line-height:21px;color:#a3a6b3;font-family:'Liberation Mono', monospace;-webkit-text-stroke:0.15px #a3a6b3;">items.create</span>
<span id="p1_l2" class="t" style="left:325.80px;top:286.30px;font-size:15px;line-height:21px;color:#4f5464;-webkit-text-stroke:0.7px #4f5464;letter-spacing:0.644px;">Collections</span>
<span id="p1_v2" class="t" style="left:326.48px;top:309.50px;font-size:15px;line-height:21px;color:#a3a6b3;font-family:'Liberation Mono', monospace;-webkit-text-stroke:0.15px #a3a6b3;">form_submissions</span>
<div style="left:314px;top:351px;width:270px;height:2px;background:#f0f4f9;"></div>
<div style="left:326px;top:368px;width:10px;height:10px;background:#6050f7;border-radius:50%;"></div>
<span id="active" class="t" style="left:344.92px;top:362.30px;font-size:15px;line-height:21px;color:#4f5464;-webkit-text-stroke:0.25px #4f5464;letter-spacing:0.550px;">Active</span>
<div style="left:668px;top:109px;width:282px;height:282px;border:2px solid #f0f4f9;border-radius:7px;box-sizing:border-box;background:#fff;"></div>
<svg class="i" style="left:686.0px;top:127.0px;" width="18" height="18" viewBox="0 0 24 24" fill="#6050f7" stroke="#6050f7"><path stroke="none" d="M12 6c3.790 0 7.170 2.130 8.820 5.500C19.170 14.870 15.790 17 12 17s-7.170-2.130-8.820-5.500C4.830 8.130 8.210 6 12 6m0-2C7 4 2.730 7.110 1 11.500 2.730 15.890 7 19 12 19s9.270-3.110 11-7.500C21.270 7.110 17 4 12 4zm0 5c1.380 0 2.500 1.120 2.500 2.500S13.380 14 12 14s-2.500-1.120-2.500-2.500S10.620 9 12 9m0-2c-2.480 0-4.500 2.020-4.500 4.500S9.520 16 12 16s4.500-2.020 4.500-4.500S14.480 7 12 7z" /></svg>
<span id="p2_h" class="t" style="left:707.60px;top:126.46px;font-size:16px;line-height:22px;color:#6050f7;-webkit-text-stroke:0.8px #6050f7;letter-spacing:-0.035px;">Read Data</span>
<span id="p2_n" class="t" style="left:685.76px;top:158.30px;font-size:15px;line-height:21px;color:#4f5464;-webkit-text-stroke:0.25px #4f5464;letter-spacing:0.532px;">Form</span>
<span id="p2_l0" class="t" style="left:685.80px;top:182.30px;font-size:15px;line-height:21px;color:#4f5464;-webkit-text-stroke:0.7px #4f5464;letter-spacing:0.694px;">Collection</span>
<span id="p2_v0" class="t" style="left:686.48px;top:205.50px;font-size:15px;line-height:21px;color:#a3a6b3;font-family:'Liberation Mono', monospace;-webkit-text-stroke:0.15px #a3a6b3;">forms</span>
<span id="p2_l1" class="t" style="left:685.05px;top:234.30px;font-size:15px;line-height:21px;color:#4f5464;-webkit-text-stroke:0.7px #4f5464;letter-spacing:0.006px;">IDs</span>
<span id="p2_v1" class="t" style="left:686.02px;top:257.50px;font-size:15px;line-height:21px;color:#a3a6b3;font-family:'Liberation Mono', monospace;-webkit-text-stroke:0.15px #a3a6b3;">{{$trigger.payload.form}}</span>
<div style="left:668px;top:449px;width:282px;height:282px;border:2px solid #f0f4f9;border-radius:7px;box-sizing:border-box;background:#fff;"></div>
<svg class="i" style="left:686.0px;top:467.0px;" width="18" height="18" viewBox="0 0 24 24" fill="#6050f7" stroke="#6050f7"><path stroke="none" d="M9.400 16.600L4.800 12l4.600-4.600L8 6l-6 6 6 6 1.400-1.400zm5.200 0l4.600-4.600-4.600-4.600L16 6l6 6-6 6-1.400-1.400z" /></svg>
<span id="p3_h" class="t" style="left:707.60px;top:466.46px;font-size:16px;line-height:22px;color:#6050f7;-webkit-text-stroke:0.8px #6050f7;letter-spacing:0.316px;">Run Script</span>
<span id="p3_n" class="t" style="left:685.76px;top:498.30px;font-size:15px;line-height:21px;color:#4f5464;-webkit-text-stroke:0.25px #4f5464;letter-spacing:0.480px;">Format</span>
<div style="left:1108px;top:109px;width:282px;height:282px;border:2px solid #f0f4f9;border-radius:7px;box-sizing:border-box;background:#fff;"></div>
<svg class="i" style="left:1126.0px;top:127.0px;" width="18" height="18" viewBox="0 0 24 24" fill="#6050f7" stroke="#6050f7"><path stroke="none" d="M12.360 6l.4 2H18v6h-3.360l-.4-2H7V6h5.360M14 4H5v17h2v-7h5.600l.4 2h7V6h-5.600L14 4z" /></svg>
<span id="p4_h" class="t" style="left:1148.60px;top:126.46px;font-size:16px;line-height:22px;color:#6050f7;-webkit-text-stroke:0.8px #6050f7;letter-spacing:0.060px;">Trigger Flow</span>
<span id="p4_n" class="t" style="left:1125.76px;top:158.30px;font-size:15px;line-height:21px;color:#4f5464;-webkit-text-stroke:0.25px #4f5464;letter-spacing:0.231px;">Render</span>
<span id="p4_l0" class="t" style="left:1125.34px;top:182.30px;font-size:15px;line-height:21px;color:#4f5464;-webkit-text-stroke:0.7px #4f5464;letter-spacing:0.356px;">Flow</span>
<span id="p4_v0" class="t" style="left:1126.37px;top:205.50px;font-size:15px;line-height:21px;color:#a3a6b3;font-family:'Liberation Mono', monospace;-webkit-text-stroke:0.15px #a3a6b3;">5429ccb0-7e97-4ef5-9d65-2b…</span>
<div style="left:1468px;top:109px;width:282px;height:282px;border:2px solid #f0f4f9;border-radius:7px;box-sizing:border-box;background:#fff;"></div>
<svg class="i" style="left:1486.0px;top:127.0px;" width="18" height="18" viewBox="0 0 24 24" fill="#6050f7" stroke="#6050f7"><path stroke="none" d="M12.360 6l.4 2H18v6h-3.360l-.4-2H7V6h5.360M14 4H5v17h2v-7h5.600l.4 2h7V6h-5.600L14 4z" /></svg>
<span id="p5_h" class="t" style="left:1508.60px;top:126.46px;font-size:16px;line-height:22px;color:#6050f7;-webkit-text-stroke:0.8px #6050f7;letter-spacing:0.060px;">Trigger Flow</span>
<span id="p5_n" class="t" style="left:1485.97px;top:158.30px;font-size:15px;line-height:21px;color:#4f5464;-webkit-text-stroke:0.25px #4f5464;letter-spacing:0.373px;">Send</span>
<span id="p5_l0" class="t" style="left:1485.34px;top:182.30px;font-size:15px;line-height:21px;color:#4f5464;-webkit-text-stroke:0.7px #4f5464;letter-spacing:0.356px;">Flow</span>
<span id="p5_v0" class="t" style="left:1486.43px;top:205.50px;font-size:15px;line-height:21px;color:#a3a6b3;font-family:'Liberation Mono', monospace;-webkit-text-stroke:0.15px #a3a6b3;">7c8732cd-9d9e-44be-a3f6-89…</span>
<svg class="i" style="left:0;top:0" width="1913" height="979" viewBox="0 0 1913 979" fill="none" stroke="#6050f7" stroke-width="1.85" stroke-linecap="round" stroke-linejoin="round"><path d="M598 310L620 310Q629 310 629 301L629 179Q629 170 638 170L656 170"/><path d="M648.4 162.3L656.1 170L648.4 177.7"/><path d="M958 310L980 310Q989 310 989 319L989 401Q989 410 980 410L638 410Q629 410 629 419L629 501Q629 510 638 510L656 510"/><path d="M648.4 502.3L656.1 510L648.4 517.7"/><path d="M958 650L1020 650Q1029 650 1029 641L1029 179Q1029 170 1038 170L1096 170"/><path d="M1088.4 162.3L1096.1 170L1088.4 177.7"/><path d="M1398 310L1420 310Q1429 310 1429 301L1429 179Q1429 170 1438 170L1456 170"/><path d="M1448.4 162.3L1456.1 170L1448.4 177.7"/></svg>
<div style="left:659px;top:160px;width:20px;height:20px;background:#fff;border-radius:50%;"></div>
<svg class="i" style="left:657.0px;top:158.0px;" width="24" height="24" viewBox="0 0 24 24" fill="#6050f7" stroke="#6050f7"><path stroke="none" d="M12 2C6.49 2 2 6.49 2 12s4.49 10 10 10 10-4.49 10-10S17.510 2 12 2zm0 18c-4.410 0-8-3.590-8-8s3.590-8 8-8 8 3.590 8 8-3.590 8-8 8zm3-8c0 1.660-1.340 3-3 3s-3-1.340-3-3 1.340-3 3-3 3 1.340 3 3z" /></svg>
<div style="left:659px;top:500px;width:20px;height:20px;background:#fff;border-radius:50%;"></div>
<svg class="i" style="left:657.0px;top:498.0px;" width="24" height="24" viewBox="0 0 24 24" fill="#6050f7" stroke="#6050f7"><path stroke="none" d="M12 2C6.49 2 2 6.49 2 12s4.49 10 10 10 10-4.49 10-10S17.510 2 12 2zm0 18c-4.410 0-8-3.590-8-8s3.590-8 8-8 8 3.590 8 8-3.590 8-8 8zm3-8c0 1.660-1.340 3-3 3s-3-1.340-3-3 1.340-3 3-3 3 1.340 3 3z" /></svg>
<div style="left:1099px;top:160px;width:20px;height:20px;background:#fff;border-radius:50%;"></div>
<svg class="i" style="left:1097.0px;top:158.0px;" width="24" height="24" viewBox="0 0 24 24" fill="#6050f7" stroke="#6050f7"><path stroke="none" d="M12 2C6.49 2 2 6.49 2 12s4.49 10 10 10 10-4.49 10-10S17.510 2 12 2zm0 18c-4.410 0-8-3.590-8-8s3.590-8 8-8 8 3.590 8 8-3.590 8-8 8zm3-8c0 1.660-1.340 3-3 3s-3-1.340-3-3 1.340-3 3-3 3 1.340 3 3z" /></svg>
<div style="left:1459px;top:160px;width:20px;height:20px;background:#fff;border-radius:50%;"></div>
<svg class="i" style="left:1457.0px;top:158.0px;" width="24" height="24" viewBox="0 0 24 24" fill="#6050f7" stroke="#6050f7"><path stroke="none" d="M12 2C6.49 2 2 6.49 2 12s4.49 10 10 10 10-4.49 10-10S17.510 2 12 2zm0 18c-4.410 0-8-3.590-8-8s3.590-8 8-8 8 3.590 8 8-3.590 8-8 8zm3-8c0 1.660-1.340 3-3 3s-3-1.340-3-3 1.340-3 3-3 3 1.340 3 3z" /></svg>
<div style="left:579px;top:300px;width:20px;height:20px;background:#fff;border-radius:50%;"></div>
<svg class="i" style="left:577.0px;top:298.0px;" width="24" height="24" viewBox="0 0 24 24" fill="#6050f7" stroke="#6050f7"><circle cx="12" cy="12" r="9" fill="none" stroke-width="2"/><path stroke="none" d="m10.6 16.6 7.05-7.05-1.4-1.4-5.65 5.65-2.85-2.85-1.4 1.4 4.25 4.25Z" /></svg>
<div style="left:939px;top:300px;width:20px;height:20px;background:#fff;border-radius:50%;"></div>
<svg class="i" style="left:937.0px;top:298.0px;" width="24" height="24" viewBox="0 0 24 24" fill="#6050f7" stroke="#6050f7"><circle cx="12" cy="12" r="9" fill="none" stroke-width="2"/><path stroke="none" d="m10.6 16.6 7.05-7.05-1.4-1.4-5.65 5.65-2.85-2.85-1.4 1.4 4.25 4.25Z" /></svg>
<div style="left:939px;top:640px;width:20px;height:20px;background:#fff;border-radius:50%;"></div>
<svg class="i" style="left:937.0px;top:638.0px;" width="24" height="24" viewBox="0 0 24 24" fill="#6050f7" stroke="#6050f7"><circle cx="12" cy="12" r="9" fill="none" stroke-width="2"/><path stroke="none" d="m10.6 16.6 7.05-7.05-1.4-1.4-5.65 5.65-2.85-2.85-1.4 1.4 4.25 4.25Z" /></svg>
<div style="left:1379px;top:300px;width:20px;height:20px;background:#fff;border-radius:50%;"></div>
<svg class="i" style="left:1377.0px;top:298.0px;" width="24" height="24" viewBox="0 0 24 24" fill="#6050f7" stroke="#6050f7"><circle cx="12" cy="12" r="9" fill="none" stroke-width="2"/><path stroke="none" d="m10.6 16.6 7.05-7.05-1.4-1.4-5.65 5.65-2.85-2.85-1.4 1.4 4.25 4.25Z" /></svg>
</main>
<svg class="i" style="left:1908px;top:974px" width="5" height="5" viewBox="0 0 5 5"><path d="M5 1.5V5H1Q4.200 4.600 5 1.500Z" fill="#0b0e18"/></svg>
<div style="left:0px;top:978px;width:1px;height:1px;background:#9a9468;"></div>
</div></body></html>
